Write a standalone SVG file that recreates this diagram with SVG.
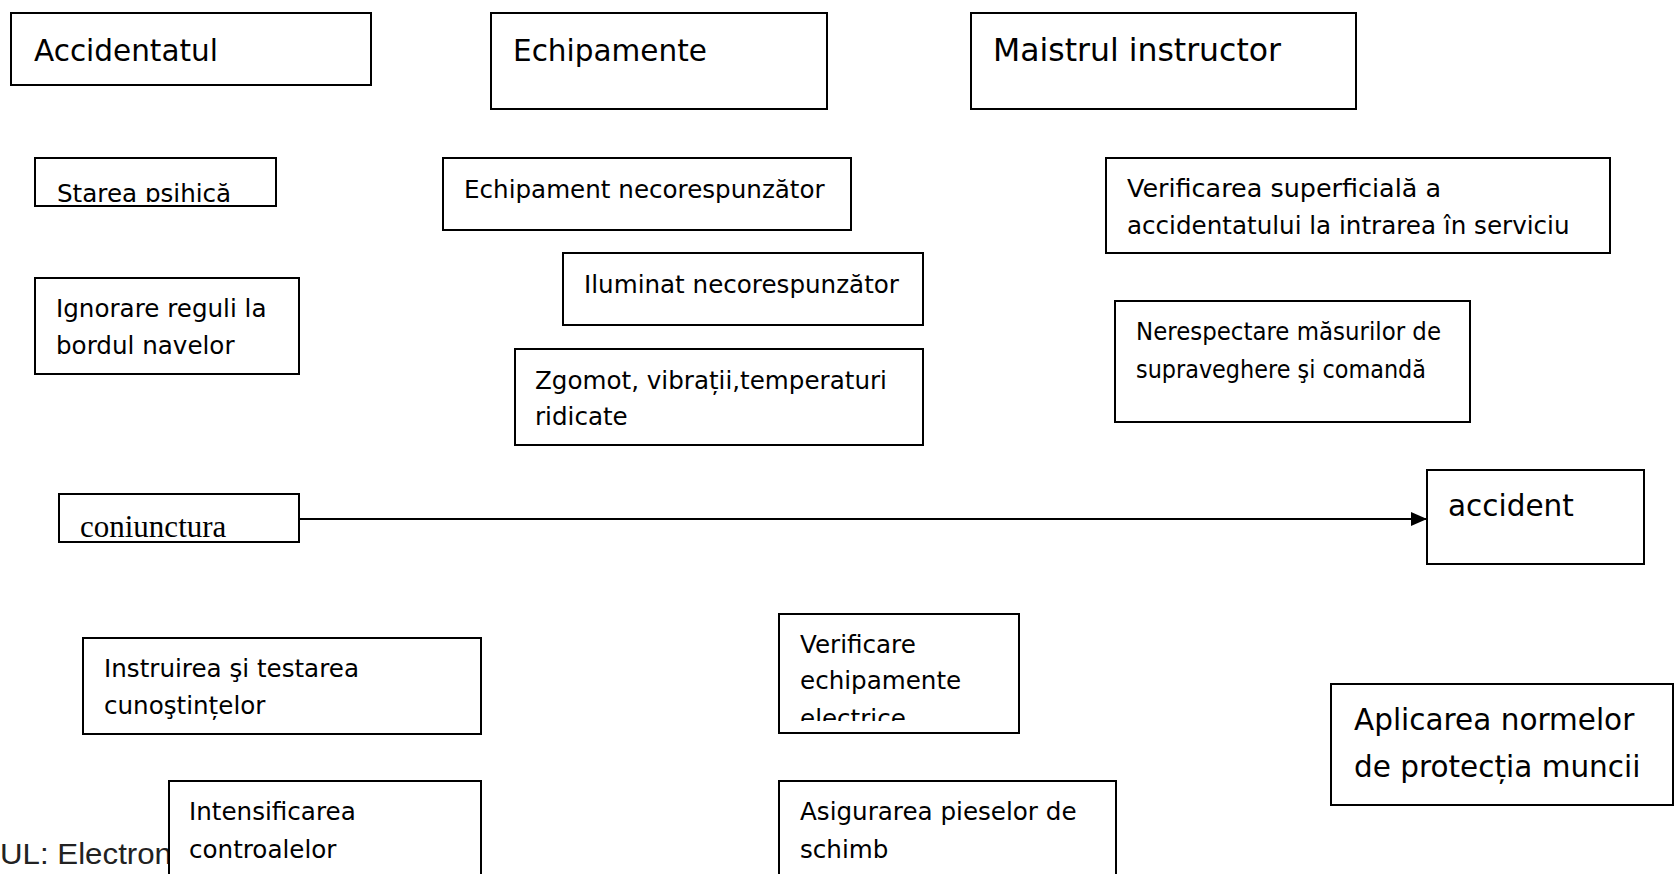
<svg xmlns="http://www.w3.org/2000/svg" width="1675" height="874" viewBox="0 0 1675 874">
  <style>
    .box { fill: #fff; stroke: #000; stroke-width: 2; }
    .t { font-family: "DejaVu Sans", "Noto Sans", sans-serif; font-size: 24.6px; fill: #000; }
    .big { font-family: "DejaVu Sans", "Noto Sans", sans-serif; font-size: 29.5px; fill: #000; }
    .serif { font-family: "Liberation Serif", serif; font-size: 31px; fill: #000; }
    .footer { font-family: "Liberation Sans", Arial, sans-serif; font-size: 30px; fill: #222; }
    .edge { stroke: #000; stroke-width: 2; fill: none; }
  </style>
  <defs>
    <marker id="arrowhead" viewBox="0 0 16 14" refX="16" refY="7" markerWidth="16" markerHeight="14" markerUnits="userSpaceOnUse" orient="auto">
      <path d="M0,0 L16,7 L0,14 z" fill="#000"/>
    </marker>
    <!-- text frames that cut off their last line -->
    <clipPath id="clip-starea"><rect x="36" y="159" width="239" height="43"/></clipPath>
    <clipPath id="clip-conj"><rect x="60" y="495" width="238" height="43"/></clipPath>
    <clipPath id="clip-verif"><rect x="780" y="615" width="238" height="106"/></clipPath>
  </defs>

  <!-- page footer partly hidden behind the box below -->
  <text class="footer" x="0" y="864" textLength="172" lengthAdjust="spacingAndGlyphs">UL: Electron</text>

  <!-- causes -->
  <g id="node-accidentatul">
    <rect class="box" x="11" y="13" width="360" height="72"/>
    <text class="big" x="34" y="61">Accidentatul</text>
  </g>
  <g id="node-echipamente">
    <rect class="box" x="491" y="13" width="336" height="96"/>
    <text class="big" x="513" y="61">Echipamente</text>
  </g>
  <g id="node-maistrul">
    <rect class="box" x="971" y="13" width="385" height="96"/>
    <text class="big" x="993" y="61" style="font-size:31.5px">Maistrul instructor</text>
  </g>

  <g id="node-starea">
    <rect class="box" x="35" y="158" width="241" height="48"/>
    <text class="t" x="57" y="202" clip-path="url(#clip-starea)">Starea psihică</text>
  </g>
  <g id="node-echipament-necoresp">
    <rect class="box" x="443" y="158" width="408" height="72"/>
    <text class="t" x="464" y="198">Echipament necorespunzător</text>
  </g>
  <g id="node-verificarea-superficiala">
    <rect class="box" x="1106" y="158" width="504" height="95"/>
    <text class="t" x="1127" y="197" textLength="314" lengthAdjust="spacingAndGlyphs">Verificarea superficială a</text>
    <text class="t" x="1127" y="234">accidentatului la intrarea în serviciu</text>
  </g>
  <g id="node-iluminat">
    <rect class="box" x="563" y="253" width="360" height="72"/>
    <text class="t" x="584" y="293">Iluminat necorespunzător</text>
  </g>
  <g id="node-ignorare">
    <rect class="box" x="35" y="278" width="264" height="96"/>
    <text class="t" x="56" y="317">Ignorare reguli la</text>
    <text class="t" x="56" y="354">bordul navelor</text>
  </g>
  <g id="node-nerespectare">
    <rect class="box" x="1115" y="301" width="355" height="121"/>
    <text class="t" x="1136" y="340" textLength="305" lengthAdjust="spacingAndGlyphs">Nerespectare măsurilor de</text>
    <text class="t" x="1136" y="378" textLength="290" lengthAdjust="spacingAndGlyphs">supraveghere şi comandă</text>
  </g>
  <g id="node-zgomot">
    <rect class="box" x="515" y="349" width="408" height="96"/>
    <text class="t" x="535" y="389">Zgomot, vibrații,temperaturi</text>
    <text class="t" x="535" y="425">ridicate</text>
  </g>

  <g id="node-conjunctura">
    <rect class="box" x="59" y="494" width="240" height="48"/>
    <text class="serif" x="80" y="537" clip-path="url(#clip-conj)">coniunctura</text>
  </g>
  <g id="node-accident">
    <rect class="box" x="1427" y="470" width="217" height="94"/>
    <text class="big" x="1448" y="516">accident</text>
  </g>

  <!-- measures -->
  <g id="node-instruirea">
    <rect class="box" x="83" y="638" width="398" height="96"/>
    <text class="t" x="104" y="677">Instruirea şi testarea</text>
    <text class="t" x="104" y="714">cunoştințelor</text>
  </g>
  <g id="node-verificare-echip">
    <rect class="box" x="779" y="614" width="240" height="119"/>
    <g clip-path="url(#clip-verif)">
      <text class="t" x="800" y="653">Verificare</text>
      <text class="t" x="800" y="689">echipamente</text>
      <text class="t" x="800" y="727">electrice</text>
    </g>
  </g>
  <g id="node-aplicarea">
    <rect class="box" x="1331" y="684" width="342" height="121"/>
    <text class="big" x="1354" y="730">Aplicarea normelor</text>
    <text class="big" x="1354" y="777">de protecția muncii</text>
  </g>
  <g id="node-intensificarea">
    <rect class="box" x="169" y="781" width="312" height="110"/>
    <text class="t" x="189" y="820">Intensificarea</text>
    <text class="t" x="189" y="858">controalelor</text>
  </g>
  <g id="node-asigurarea">
    <rect class="box" x="779" y="781" width="337" height="110"/>
    <text class="t" x="800" y="820">Asigurarea pieselor de</text>
    <text class="t" x="800" y="858">schimb</text>
  </g>

  <g id="connectors">
    <line class="edge" x1="299" y1="519" x2="1427" y2="519" marker-end="url(#arrowhead)"/>
  </g>
</svg>
